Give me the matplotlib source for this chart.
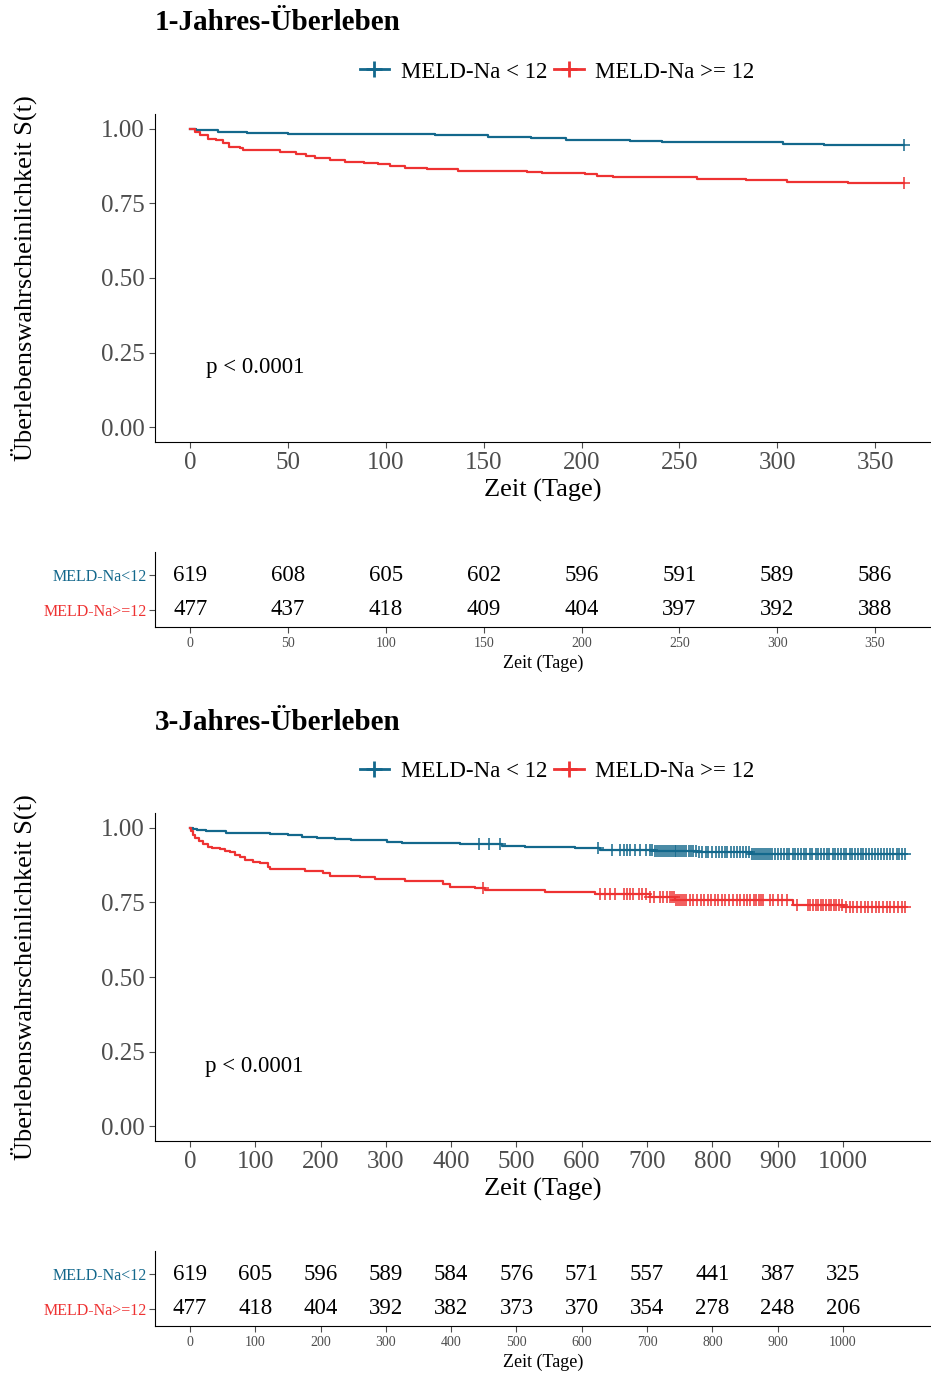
import numpy as np
import matplotlib.pyplot as plt
from matplotlib.lines import Line2D

plt.rcParams['font.family'] = ['Liberation Serif', 'DejaVu Serif']

BLAU = "#13688C"
ROT = "#EE3232"
GRAU = "#4D4D4D"

GRUPPEN = ["MELD-Na < 12", "MELD-Na >= 12"]
GRUPPEN_KURZ = ["MELD-Na<12", "MELD-Na>=12"]

# ---------------------------------------------------------------------------
# 1-Jahres-Überleben: Stufen (Tag, S(t) nach der Stufe)
# ---------------------------------------------------------------------------
j1_blau_t = [0, 3, 14, 29, 50, 125, 152, 174, 192, 225, 241, 303, 324, 365]
j1_blau_s = [1.0, 0.997, 0.991, 0.987, 0.982, 0.979, 0.974, 0.969, 0.964,
             0.960, 0.955, 0.951, 0.947, 0.947]
j1_rot_t = [0, 2.6, 5, 9, 13, 17, 20, 25.5, 27, 46, 54, 59, 64, 71.5, 79, 89,
            96, 102, 110, 121, 137, 172, 180, 202, 208, 216, 259, 284, 305,
            336, 365]
j1_rot_s = [1.0, 0.991, 0.980, 0.966, 0.963, 0.954, 0.941, 0.935, 0.930,
            0.921, 0.915, 0.909, 0.902, 0.896, 0.890, 0.887, 0.881, 0.877,
            0.870, 0.865, 0.860, 0.856, 0.852, 0.848, 0.843, 0.838, 0.833,
            0.828, 0.823, 0.818, 0.818]
j1_blau_zensiert = [365]
j1_rot_zensiert = [365]

j1_zeiten = [0, 50, 100, 150, 200, 250, 300, 350]
j1_risiko_blau = [619, 608, 605, 602, 596, 591, 589, 586]
j1_risiko_rot = [477, 437, 418, 409, 404, 397, 392, 388]

# ---------------------------------------------------------------------------
# 3-Jahres-Überleben
# ---------------------------------------------------------------------------
j3_blau_t = [0, 5, 10, 25, 55, 122, 150, 172, 195, 222, 246, 302, 325, 413,
             478, 513, 590, 628, 712, 777, 860, 1000, 1095]
j3_blau_s = [1.0, 0.996, 0.993, 0.988, 0.984, 0.980, 0.975, 0.971, 0.967,
             0.962, 0.958, 0.953, 0.949, 0.945, 0.941, 0.936, 0.932, 0.927,
             0.923, 0.918, 0.914, 0.911, 0.911]
j3_rot_t = [0, 2, 4, 8, 14, 20, 27, 34, 46, 54, 61, 69, 77, 84, 96, 107, 119,
            123, 176, 203, 214, 260, 283, 329, 387, 398, 436, 452, 543, 620,
            704, 743, 924, 1000, 1095]
j3_rot_s = [1.0, 0.988, 0.977, 0.965, 0.955, 0.945, 0.937, 0.932, 0.9285,
            0.924, 0.918, 0.909, 0.902, 0.893, 0.887, 0.8815, 0.870, 0.8625,
            0.8557, 0.848, 0.839, 0.8345, 0.828, 0.822, 0.812, 0.803, 0.798,
            0.792, 0.784, 0.7774, 0.7696, 0.759, 0.742, 0.736, 0.736]

j3_blau_zensiert = [
    442, 458, 475, 625, 646, 658, 664, 669, 674, 681, 689, 699, 704, 708,
    712, 715, 718, 721, 724, 727, 730, 733, 736, 739, 742, 745, 748, 751,
    754, 757, 760, 764, 767, 770,
    775, 779, 784, 790, 794, 799, 805, 810, 814, 819, 823, 828, 833, 838,
    842, 847, 851, 856, 860, 864, 867, 870, 873, 876, 879, 882,
    885, 888, 892, 896, 901, 905, 909, 914, 918, 923, 927, 931, 936,
    940, 944, 949, 953, 958, 962, 967, 971, 975, 979, 984, 988, 992, 997,
    1001, 1005, 1010, 1014, 1018, 1023, 1027, 1031, 1036, 1040, 1045, 1049,
    1054, 1058, 1063, 1068, 1072, 1077, 1082, 1086, 1090, 1095]
j3_rot_zensiert = [
    448, 628, 636, 643, 651, 664, 669, 674, 679, 687, 692, 699, 704, 710,
    720, 725, 730, 735, 738, 741, 744, 747, 750, 753, 756, 760,
    765, 771, 776, 782, 787, 793, 798, 804, 809, 815, 820, 826, 831, 837,
    842, 848, 853, 858, 863, 867, 871, 875, 878, 888, 893, 901, 907,
    914, 930, 946, 950, 954, 958, 962, 966, 970, 974, 978, 982,
    986, 990, 994, 998, 1004, 1010, 1016, 1021, 1027, 1033, 1038,
    1044, 1050, 1055, 1061, 1067, 1072, 1078, 1084, 1090, 1095]

j3_zeiten = [0, 100, 200, 300, 400, 500, 600, 700, 800, 900, 1000]
j3_risiko_blau = [619, 605, 596, 589, 584, 576, 571, 557, 441, 387, 325]
j3_risiko_rot = [477, 418, 404, 392, 382, 373, 370, 354, 278, 248, 206]

B, H = 931, 1374


def px_achse(links, oben, rechts, unten):
    """Achse in Pixelkoordinaten (von oben gemessen)."""
    return fig.add_axes([links / B, 1 - unten / H, (rechts - links) / B,
                         (unten - oben) / H])


def s_bei(t_stufen, s_stufen, t):
    idx = np.searchsorted(t_stufen, t, side="right") - 1
    return np.asarray(s_stufen)[idx]


def km_panel(y0, titel, kurven, xlim, xticks, pval_x):
    fig.text(155 / B, 1 - (y0 + 23) / H, titel, fontsize=21, fontweight="bold",
             ha="left", va="center")
    handles = [Line2D([], [], color=BLAU, lw=2, marker="+", ms=12, mew=2),
               Line2D([], [], color=ROT, lw=2, marker="+", ms=12, mew=2)]
    fig.legend(handles, GRUPPEN, loc="center", ncol=2, frameon=False,
               bbox_to_anchor=(557 / B, 1 - (y0 + 72) / H), fontsize=16.5,
               handlelength=1.3, handletextpad=0.5, columnspacing=0.3)

    ax = px_achse(155, y0 + 114, 931, y0 + 442)
    for t, s, zens, farbe in kurven:
        ax.step(t, s, where="post", color=farbe, lw=1.6)
        ax.plot(zens, s_bei(t, s, zens), ls="none", marker="+", ms=9,
                mew=1.1, color=farbe)
    ax.set_xlim(*xlim)
    ax.set_ylim(-0.05, 1.05)
    ax.set_yticks([0, 0.25, 0.5, 0.75, 1.0])
    ax.set_yticklabels(["0.00", "0.25", "0.50", "0.75", "1.00"])
    ax.set_xticks(xticks)
    ax.tick_params(labelsize=18, colors=GRAU, labelcolor=GRAU, length=4)
    ax.set_xlabel("Zeit (Tage)", fontsize=19, labelpad=3)
    ax.set_ylabel("Überlebenswahrscheinlichkeit S(t)", fontsize=19)
    ax.yaxis.set_label_coords(-0.152, 0.5)
    for seite in ["top", "right"]:
        ax.spines[seite].set_visible(False)
    ax.text(pval_x, 0.2, "p < 0.0001", fontsize=16.5, ha="left", va="center")
    return ax


def risiko_tabelle(y0, zeiten, blau, rot, xlim):
    ax = px_achse(155, y0 + 552, 931, y0 + 627)
    for i, z in enumerate(zeiten):
        ax.text(z, 2, str(blau[i]), ha="center", va="center", fontsize=16.5)
        ax.text(z, 1, str(rot[i]), ha="center", va="center", fontsize=16.5)
    ax.set_xlim(*xlim)
    ax.set_ylim(0.51, 2.66)
    ax.set_xticks(zeiten)
    ax.set_yticks([2, 1])
    ax.set_yticklabels(GRUPPEN_KURZ)
    for lab, farbe in zip(ax.get_yticklabels(), [BLAU, ROT]):
        lab.set_color(farbe)
    ax.tick_params(axis="y", labelsize=11.5, length=4, color=GRAU, pad=2)
    ax.tick_params(axis="x", labelsize=10, length=4, colors=GRAU,
                   labelcolor=GRAU)
    ax.set_xlabel("Zeit (Tage)", fontsize=13, labelpad=3)
    for seite in ["top", "right"]:
        ax.spines[seite].set_visible(False)


fig = plt.figure(figsize=(B / 100, H / 100), dpi=100)

km_panel(0, "1-Jahres-Überleben",
         [(j1_blau_t, j1_blau_s, j1_blau_zensiert, BLAU),
          (j1_rot_t, j1_rot_s, j1_rot_zensiert, ROT)],
         (-18, 378.6), [0, 50, 100, 150, 200, 250, 300, 350], 8)
risiko_tabelle(0, j1_zeiten, j1_risiko_blau, j1_risiko_rot, (-18, 378.6))

km_panel(699, "3-Jahres-Überleben",
         [(j3_blau_t, j3_blau_s, j3_blau_zensiert, BLAU),
          (j3_rot_t, j3_rot_s, j3_rot_zensiert, ROT)],
         (-53.6, 1134.8), [0, 100, 200, 300, 400, 500, 600, 700, 800, 900, 1000], 23)
risiko_tabelle(699, j3_zeiten, j3_risiko_blau, j3_risiko_rot, (-53.6, 1134.8))

fig.savefig("out.png", dpi=100)
